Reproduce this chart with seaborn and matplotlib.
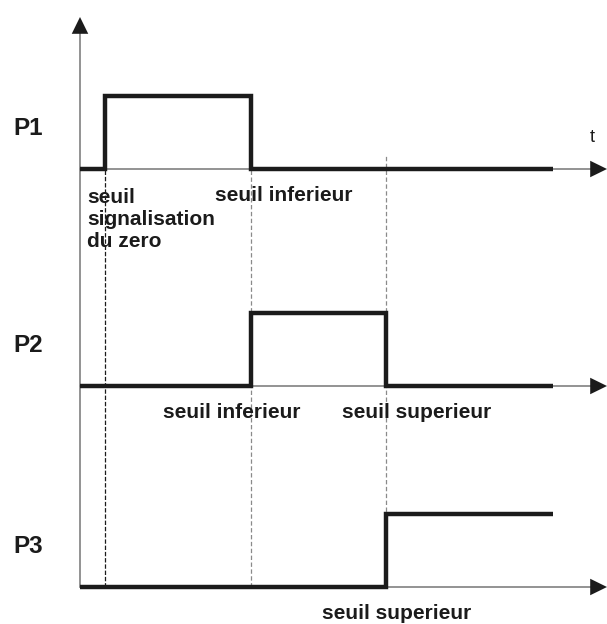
import matplotlib
matplotlib.use("Agg")
import matplotlib.pyplot as plt
import seaborn as sns
import pandas as pd

# signals (time in arbitrary units, level 0/1)
channels = ["P1", "P2", "P3"]
p1_t = [0, 25, 171, 473]
p1_level = [0, 1, 0, 0]
p2_t = [0, 171, 306, 473]
p2_level = [0, 1, 0, 0]
p3_t = [0, 306, 473]
p3_level = [0, 1, 1]

thresholds = [25, 171, 306]

# threshold labels per channel
p1_labels = ["seuil\nsignalisation\ndu zero", "seuil inferieur"]
p2_labels = ["seuil inferieur", "seuil superieur"]
p3_labels = ["seuil superieur"]

sns.set_style("white")
plt.rcParams["font.family"] = ["Liberation Sans", "DejaVu Sans"]

ink = "#1b1b1b"
grey = "#8a8a8a"

fig = plt.figure(figsize=(6.07, 6.24), dpi=100)
ax = fig.add_axes([0, 0, 1, 1])
ax.set_xlim(-80, 527)
ax.set_ylim(-37 / 73, 587 / 73)
ax.axis("off")

base = {"P1": 418 / 73, "P2": 201 / 73, "P3": 0.0}
sig = {"P1": (p1_t, p1_level), "P2": (p2_t, p2_level), "P3": (p3_t, p3_level)}
labels = {"P1": p1_labels, "P2": p2_labels, "P3": p3_labels}
label_x = {"P1": [7, 135], "P2": [83, 262], "P3": [242]}

# vertical axis
ax.plot([0, 0], [0, base["P1"] + 2.0], color=grey, lw=1.3, zorder=1)
ax.annotate("", xy=(0, 570 / 73), xytext=(0, 550 / 73),
            arrowprops=dict(arrowstyle="-|>,head_length=0.55,head_width=0.27",
                            mutation_scale=22, color=ink, lw=0,
                            shrinkA=0, shrinkB=0))

# dashed threshold lines
ax.vlines(thresholds[0], 0, base["P1"], colors=ink, lw=0.9,
          linestyles=(0, (3.5, 1.5)), zorder=1)
ax.vlines(thresholds[1], 0, base["P1"] + 1, colors=grey, lw=0.9,
          linestyles=(0, (3.5, 2)), zorder=1)
ax.vlines(thresholds[2], 0, 432 / 73, colors=grey, lw=0.9,
          linestyles=(0, (3.5, 2)), zorder=1)

for ch in channels:
    b = base[ch]
    # time axis with arrow
    ax.plot([0, 512], [b, b], color=grey, lw=1.3, zorder=1)
    ax.annotate("", xy=(527, b), xytext=(505, b),
                arrowprops=dict(arrowstyle="-|>,head_length=0.55,head_width=0.27",
                                mutation_scale=22, color=ink, lw=0,
                                shrinkA=0, shrinkB=0))
    t, lev = sig[ch]
    df = pd.DataFrame({"t": t, "y": [v + b for v in lev]})
    sns.lineplot(data=df, x="t", y="y", ax=ax, color=ink, lw=3.2,
                 drawstyle="steps-post", solid_joinstyle="miter",
                 solid_capstyle="butt", legend=False, zorder=3)
    ax.text(-67, b + 0.56, ch, fontsize=17.5, fontweight="bold",
            color=ink, ha="left", va="center")
    for lx, lab in zip(label_x[ch], labels[ch]):
        nl = lab.count("\n")
        ax.text(lx, b - 0.44 - nl * 0.315, lab, fontsize=15, fontweight="bold",
                color=ink, ha="left", va="baseline", linespacing=1.22)

ax.text(510, base["P1"] + 0.37, "t", fontsize=13, color=ink,
        ha="left", va="baseline")

fig.savefig("out.png", dpi=100)
